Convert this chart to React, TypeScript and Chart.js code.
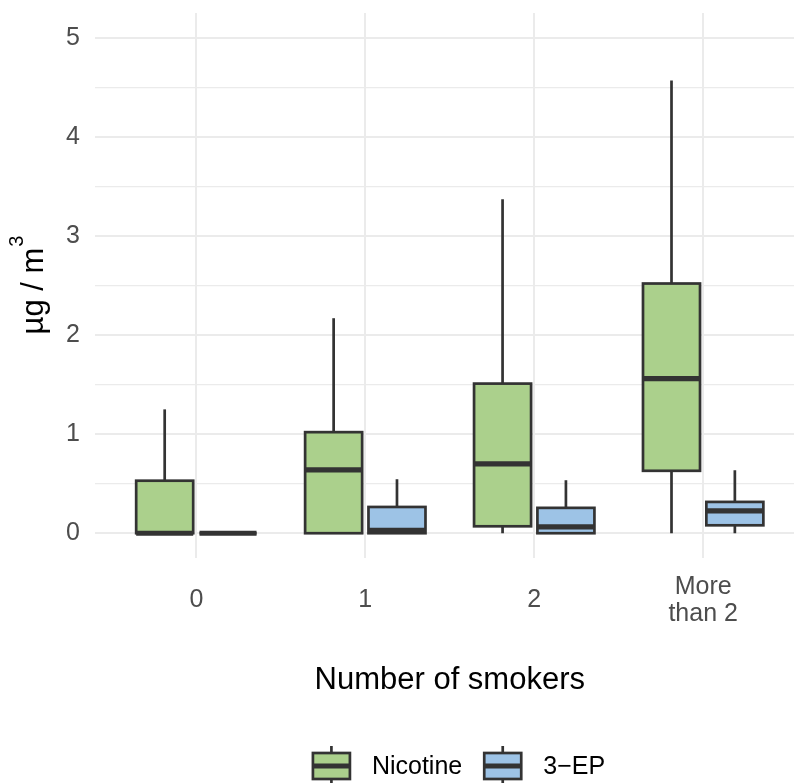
import React, { useEffect, useRef } from 'react';
import { Chart, registerables } from 'chart.js';

Chart.register(...registerables);

const FONT = "'Liberation Sans', Arial, Helvetica, sans-serif";

const categories = ['0', '1', '2', 'More\nthan 2'];
const seriesNames = ['Nicotine', '3−EP'];
const seriesColors = ['#ABD08C', '#9DC3E6'];

const nicotineMin = [0, 0, 0, 0];
const nicotineQ1 = [0, 0, 0.07, 0.63];
const nicotineMedian = [0, 0.64, 0.7, 1.56];
const nicotineQ3 = [0.53, 1.02, 1.51, 2.52];
const nicotineMax = [1.25, 2.17, 3.37, 4.57];

const epMin = [0, 0, 0, 0];
const epQ1 = [0, 0, 0, 0.08];
const epMedian = [0, 0.03, 0.065, 0.225];
const epQ3 = [0, 0.265, 0.256, 0.316];
const epMax = [0, 0.545, 0.535, 0.636];

const yMajorTicks = [0, 1, 2, 3, 4, 5];
const yMinorTicks = [0.5, 1.5, 2.5, 3.5, 4.5];

const yTitleMain = 'µg / m';
const yTitleSup = '3';
const xTitle = 'Number of smokers';

const boxStats = [
  { min: nicotineMin, q1: nicotineQ1, med: nicotineMedian, q3: nicotineQ3, max: nicotineMax },
  { min: epMin, q1: epQ1, med: epMedian, q3: epQ3, max: epMax },
];

const OUTLINE = '#333333';
const LW = 2.7;

const boxPlugin = {
  id: 'boxWhisker',
  afterDatasetsDraw(chart: any) {
    const ctx = chart.ctx;
    const ys = chart.scales.y;
    chart.data.datasets.forEach((_ds: any, di: number) => {
      const meta = chart.getDatasetMeta(di);
      const st = boxStats[di];
      meta.data.forEach((bar: any, i: number) => {
        const { x, width } = bar.getProps(['x', 'width'], true);
        const left = x - width / 2;
        const pMin = ys.getPixelForValue(st.min[i]);
        const pQ1 = ys.getPixelForValue(st.q1[i]);
        const pMed = ys.getPixelForValue(st.med[i]);
        const pQ3 = ys.getPixelForValue(st.q3[i]);
        const pMax = ys.getPixelForValue(st.max[i]);
        ctx.save();
        ctx.strokeStyle = OUTLINE;
        ctx.lineCap = 'butt';
        ctx.lineJoin = 'miter';
        ctx.lineWidth = LW;
        ctx.beginPath();
        ctx.moveTo(x, pQ3);
        ctx.lineTo(x, pMax);
        ctx.moveTo(x, pQ1);
        ctx.lineTo(x, pMin);
        ctx.stroke();
        ctx.strokeRect(left, pQ3, width, pQ1 - pQ3);
        ctx.lineWidth = 5.2;
        ctx.beginPath();
        ctx.moveTo(left, pMed);
        ctx.lineTo(left + width, pMed);
        ctx.stroke();
        ctx.restore();
      });
    });
  },
};

const textPlugin = {
  id: 'titlesLegend',
  afterDraw(chart: any) {
    const ctx = chart.ctx;
    const area = chart.chartArea;
    ctx.save();
    // x title
    ctx.fillStyle = '#000000';
    ctx.font = `31px ${FONT}`;
    ctx.textAlign = 'center';
    ctx.textBaseline = 'alphabetic';
    const xs = chart.scales.x;
    const xCenter = (xs.getPixelForValue(0.4) + xs.getPixelForValue(4.6)) / 2;
    ctx.fillText(xTitle, xCenter, 689);

    // y title (rotated)
    const cy = (area.top + area.bottom) / 2;
    ctx.translate(43, cy);
    ctx.rotate(-Math.PI / 2);
    ctx.textAlign = 'left';
    ctx.font = `31px ${FONT}`;
    const wMain = ctx.measureText(yTitleMain).width;
    ctx.font = `20px ${FONT}`;
    const wSup = ctx.measureText(yTitleSup).width;
    const x0 = -(wMain + wSup) / 2;
    ctx.font = `31px ${FONT}`;
    ctx.fillText(yTitleMain, x0, 0);
    ctx.font = `20px ${FONT}`;
    ctx.fillText(yTitleSup, x0 + wMain + 1, -20);
    ctx.restore();

    // legend
    ctx.save();
    ctx.font = `25px ${FONT}`;
    ctx.textBaseline = 'middle';
    ctx.textAlign = 'left';
    const keyW = 37;
    const keyH = 26;
    const gap = 22;
    const widths = seriesNames.map((n) => ctx.measureText(n).width);
    const total = widths.reduce((s, w) => s + keyW + gap + w, 0) + gap * (seriesNames.length - 1);
    let lx = 459 - total / 2;
    const midY = 766;
    seriesNames.forEach((name, i) => {
      const cx = lx + keyW / 2;
      ctx.strokeStyle = OUTLINE;
      ctx.lineWidth = LW;
      ctx.beginPath();
      ctx.moveTo(cx, midY - 20);
      ctx.lineTo(cx, midY + 20);
      ctx.stroke();
      ctx.fillStyle = seriesColors[i];
      ctx.fillRect(lx, midY - keyH / 2, keyW, keyH);
      ctx.strokeRect(lx, midY - keyH / 2, keyW, keyH);
      ctx.lineWidth = 5.2;
      ctx.beginPath();
      ctx.moveTo(lx, midY);
      ctx.lineTo(lx + keyW, midY);
      ctx.stroke();
      ctx.fillStyle = '#000000';
      ctx.fillText(name, lx + keyW + gap, midY + 1);
      lx += keyW + gap + widths[i] + gap;
    });
    ctx.restore();
  },
};

export default function App() {
  const canvasRef = useRef<HTMLCanvasElement | null>(null);

  useEffect(() => {
    if (!canvasRef.current) return;
    const datasets = seriesNames.map((name, di) => ({
      label: name,
      data: categories.map((_, i) => ({ x: i + 1, y: [boxStats[di].q1[i], boxStats[di].q3[i]] })),
      backgroundColor: seriesColors[di],
      borderWidth: 0,
      categoryPercentage: 0.75,
      barPercentage: 0.9,
    }));
    const chart = new Chart(canvasRef.current, {
      type: 'bar',
      data: { datasets } as any,
      options: {
        animation: false,
        responsive: true,
        maintainAspectRatio: false,
        layout: { padding: { top: 13, left: 0, right: 0, bottom: 0 } },
        plugins: { legend: { display: false }, tooltip: { enabled: false } },
        scales: {
          x: {
            type: 'linear',
            offset: false,
            min: 0.4,
            max: 4.5376,
            afterBuildTicks: (axis: any) => {
              axis.ticks = categories.map((_, i) => ({ value: i + 1 }));
            },
            afterFit: (axis: any) => {
              axis.height = 225;
              axis.paddingLeft = 0;
              axis.paddingRight = 0;
            },
            grid: { color: '#EBEBEB', lineWidth: 2, drawTicks: false, offset: false },
            border: { display: false },
            ticks: {
              autoSkip: false,
              maxRotation: 0,
              minRotation: 0,
              crossAlign: 'center',
              padding: 29,
              color: '#4D4D4D',
              font: { family: FONT, size: 25, lineHeight: 1.08 },
              callback: (v: any) => {
                const c = categories[Math.round(Number(v)) - 1];
                return c ? c.split('\n') : '';
              },
            },
          },
          y: {
            type: 'linear',
            min: -0.25,
            max: 5.25,
            afterBuildTicks: (axis: any) => {
              axis.ticks = [...yMajorTicks, ...yMinorTicks]
                .sort((a, b) => a - b)
                .map((v) => ({ value: v }));
            },
            afterFit: (axis: any) => {
              axis.width = 95;
              axis.paddingTop = 0;
              axis.paddingBottom = 0;
            },
            grid: {
              color: '#EBEBEB',
              lineWidth: (c: any) => (yMajorTicks.includes(c.tick?.value) ? 2 : 1.2),
              drawTicks: false,
            },
            border: { display: false },
            ticks: {
              padding: 15,
              color: '#4D4D4D',
              font: { family: FONT, size: 25, lineHeight: 1.08 },
              callback: (v: any) => (yMajorTicks.includes(Number(v)) ? String(v) : ''),
            },
          },
        },
      } as any,
      plugins: [boxPlugin, textPlugin],
    });
    return () => chart.destroy();
  }, []);

  return (
    <div style={{ position: 'fixed', left: 0, top: 0, width: 794, height: 783, background: '#ffffff' }}>
      <canvas ref={canvasRef} />
    </div>
  );
}
